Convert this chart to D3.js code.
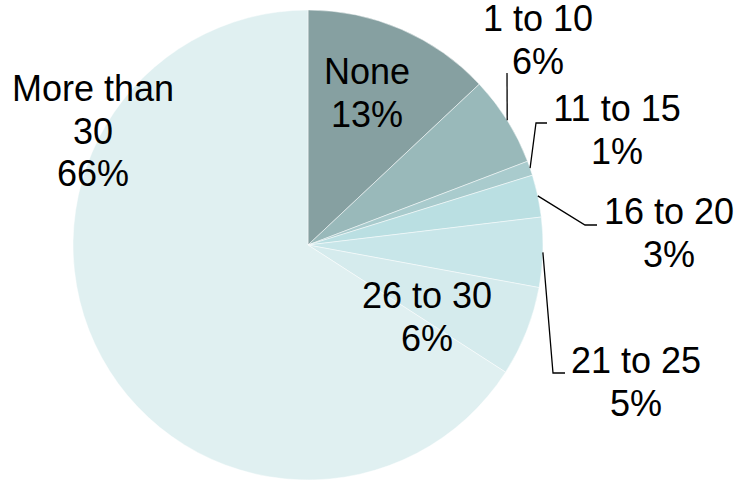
<!DOCTYPE html>
<html><head><meta charset="utf-8">
<script src="https://cdn.jsdelivr.net/npm/d3@7"></script>
<style>html,body{margin:0;padding:0;background:#fff;}svg{display:block;}</style>
</head><body>
<svg id="chart" width="750" height="484"></svg>
<script>
const categories = ["None","1 to 10","11 to 15","16 to 20","21 to 25","26 to 30","More than 30"];
const values = [13.0, 6.2, 1.0, 2.9, 4.8, 6.2, 65.9];
const colors = ["#86a0a1","#99b9ba","#a9cbcd","#badfe2","#c8e6e9","#d5ebed","#e0f0f1"];
// label line splits
const labelLines = [["None"],["1 to 10"],["11 to 15"],["16 to 20"],["21 to 25"],["26 to 30"],["More than","30"]];
// layout: label centre x, first baseline y, and leader elbow/end points (null = no leader)
const labelPos = [[367,84],[538,31],[617,121],[669,224],[636,373],[427,308],[93,101]];
const leaders = [null, [[507,73]], [[536,123],[547,123]], [[585,225],[597,225]], [[553,373],[565,373]], null, null];

const cx = 308, cy = 245, r = 235;
const svg = d3.select("#chart");
const g = svg.append("g").attr("transform", `translate(${cx},${cy})`);
const pie = d3.pie().sort(null).value(d => d.v);
const data = categories.map((c,i) => ({c, v: values[i], i}));
const arcs = pie(data);
const arc = d3.arc().innerRadius(0).outerRadius(r);
const total = d3.sum(values);

g.selectAll("path").data(arcs).enter().append("path")
  .attr("d", arc)
  .attr("fill", d => colors[d.data.i])
  .attr("stroke", "#ffffff").attr("stroke-opacity", 0.6).attr("stroke-width", 0.8);

// leader lines
arcs.forEach(a => {
  const L = leaders[a.data.i];
  if (!L) return;
  const mid = (a.startAngle + a.endAngle) / 2;
  const p0 = [cx + r * Math.sin(mid), cy - r * Math.cos(mid)];
  const pts = [p0, ...L];
  svg.append("path").attr("d", d3.line()(pts))
    .attr("fill", "none").attr("stroke", "#000").attr("stroke-width", 1.3);
});

// labels
arcs.forEach(a => {
  const i = a.data.i;
  const [lx, ly] = labelPos[i];
  const lines = labelLines[i].concat([Math.round(a.data.v / total * 100) + "%"]);
  const t = svg.append("text").attr("text-anchor", "middle")
    .attr("font-family", "Liberation Sans, Arial, sans-serif").attr("font-size", 36).attr("fill", "#000");
  lines.forEach((s, k) => t.append("tspan").attr("x", lx).attr("y", ly + k * 42.5).text(s));
});
</script>
</body></html>
